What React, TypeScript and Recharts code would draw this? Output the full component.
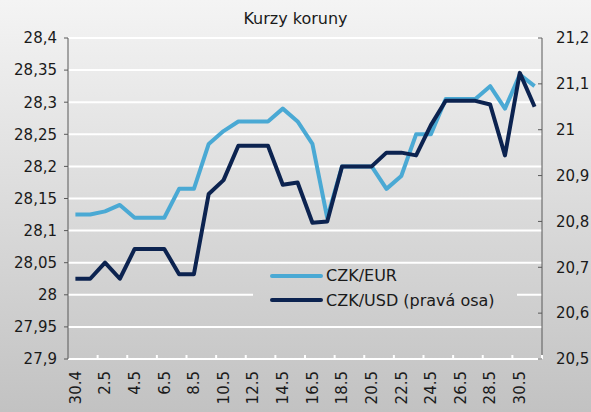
import { LineChart, Line, XAxis, YAxis, CartesianGrid, Legend } from 'recharts'

const dates = [
  '30.4', '1.5', '2.5', '3.5', '4.5', '5.5', '6.5', '7.5', '8.5', '9.5', '10.5',
  '11.5', '12.5', '13.5', '14.5', '15.5', '16.5', '17.5', '18.5', '19.5', '20.5',
  '21.5', '22.5', '23.5', '24.5', '25.5', '26.5', '27.5', '28.5', '29.5', '30.5', '31.5',
]

const eurValues = [
  28.125, 28.125, 28.13, 28.14, 28.12, 28.12, 28.12, 28.165, 28.165, 28.235, 28.255,
  28.27, 28.27, 28.27, 28.29, 28.27, 28.235, 28.12, 28.2, 28.2, 28.2,
  28.165, 28.185, 28.25, 28.25, 28.305, 28.305, 28.305, 28.325, 28.29, 28.343, 28.325,
]

const usdValues = [
  20.675, 20.675, 20.71, 20.675, 20.74, 20.74, 20.74, 20.685, 20.685, 20.86, 20.89,
  20.965, 20.965, 20.965, 20.88, 20.885, 20.797, 20.8, 20.92, 20.92, 20.92,
  20.95, 20.95, 20.944, 21.01, 21.063, 21.063, 21.063, 21.055, 20.944, 21.124, 21.05,
]

const leftTicks = [27.9, 27.95, 28, 28.05, 28.1, 28.15, 28.2, 28.25, 28.3, 28.35, 28.4]
const rightTicks = [20.5, 20.6, 20.7, 20.8, 20.9, 21, 21.1, 21.2]

const data = dates.map((date, i) => ({ date, eur: eurValues[i], usd: usdValues[i] }))

const W = 591
const H = 412
const LEFT_W = 68
const RIGHT_W = 49
const band = (W - LEFT_W - RIGHT_W) / dates.length

const EUR_COLOR = '#4aa9d4'
const USD_COLOR = '#0c2350'
const FONT = '"DejaVu Sans", Verdana, sans-serif'
const BG = 'linear-gradient(to bottom, #f4f4f4, #c2c2c2)'

const fmt = (v: number) => String(v).replace('.', ',')

function DateTick(props: any) {
  const { x, y, payload } = props
  const ty = y + 12
  const tickX = x + band * 1.5
  return (
    <g>
      <line x1={tickX} y1={y} x2={tickX} y2={y - 4} stroke="#fff" strokeWidth={2} />
      <text
        x={x}
        y={ty}
        dy="0.35em"
        transform={`rotate(-90, ${x}, ${ty})`}
        textAnchor="end"
        fontSize={15}
        fontFamily={FONT}
        fill="#1a1a1a"
      >
        {payload.value}
      </text>
    </g>
  )
}

function RightTick(props: any) {
  const { x, y, payload } = props
  return (
    <g>
      <line x1={x - 4} y1={y} x2={x} y2={y} stroke="#595959" />
      <text x={x + 14} y={y} dy="0.35em" textAnchor="start" fontSize={15} fontFamily={FONT} fill="#1a1a1a">
        {fmt(payload.value)}
      </text>
    </g>
  )
}

function LegendBox(props: any) {
  const items = props.payload || []
  return (
    <div style={{ position: 'relative', width: 264, height: 59 }}>
      {items.map((item: any, i: number) => (
        <div
          key={item.value}
          style={{
            position: 'absolute',
            left: 17,
            top: 9.7 + i * 24.3 - 10,
            height: 20,
            display: 'flex',
            alignItems: 'center',
            whiteSpace: 'nowrap',
          }}
        >
          <span style={{ display: 'inline-block', width: 53, height: 4, borderRadius: 2, background: item.color }} />
          <span style={{ marginLeft: 3, fontSize: 16, fontFamily: FONT, color: '#1a1a1a' }}>{item.value}</span>
        </div>
      ))}
    </div>
  )
}

export default function App() {
  return (
    <div style={{ position: 'absolute', left: 0, top: 0, width: W, height: H, background: BG, backgroundAttachment: 'fixed' }}>
      <div
        style={{
          position: 'absolute',
          left: 0,
          top: 9,
          width: W,
          textAlign: 'center',
          fontFamily: FONT,
          fontSize: 16,
          lineHeight: '20px',
          color: '#1a1a1a',
        }}
      >
        Kurzy koruny
      </div>
      <LineChart width={W} height={H} data={data} margin={{ top: 38, right: 0, bottom: 0, left: 0 }} style={{ fontFamily: FONT }}>
        <CartesianGrid yAxisId="left" vertical={false} stroke="#fff" strokeWidth={2} />
        <XAxis
          dataKey="date"
          height={53}
          interval={1}
          padding={{ left: band / 2, right: band / 2 }}
          axisLine={{ stroke: '#fff', strokeWidth: 2 }}
          tickLine={false}
          tickSize={0}
          tickMargin={0}
          tick={<DateTick />}
        />
        <YAxis
          yAxisId="left"
          width={LEFT_W}
          domain={[27.9, 28.4]}
          ticks={leftTicks}
          interval={0}
          tickFormatter={fmt}
          axisLine={{ stroke: '#595959' }}
          tickLine={{ stroke: '#595959' }}
          tickSize={4}
          tickMargin={7}
          tick={{ fontSize: 15, fontFamily: FONT, fill: '#1a1a1a' }}
        />
        <YAxis
          yAxisId="right"
          orientation="right"
          width={RIGHT_W}
          domain={[20.5, 21.2]}
          ticks={rightTicks}
          interval={0}
          axisLine={{ stroke: '#595959' }}
          tickLine={false}
          tickSize={0}
          tickMargin={0}
          tick={<RightTick />}
        />
        <Legend
          layout="vertical"
          align="center"
          verticalAlign="middle"
          content={<LegendBox />}
          wrapperStyle={{ left: 253, top: 266, width: 264, height: 59, background: BG, backgroundAttachment: 'fixed' }}
        />
        <Line
          yAxisId="left"
          type="linear"
          dataKey="eur"
          name="CZK/EUR"
          stroke={EUR_COLOR}
          strokeWidth={4}
          strokeLinejoin="round"
          dot={false}
          isAnimationActive={false}
        />
        <Line
          yAxisId="right"
          type="linear"
          dataKey="usd"
          name="CZK/USD (pravá osa)"
          stroke={USD_COLOR}
          strokeWidth={4}
          strokeLinejoin="round"
          dot={false}
          isAnimationActive={false}
        />
      </LineChart>
    </div>
  )
}
